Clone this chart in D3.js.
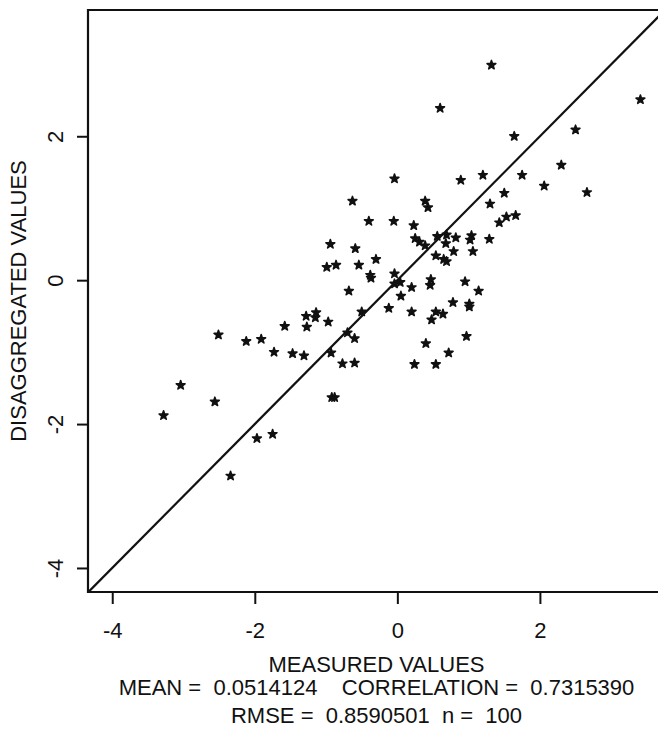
<!DOCTYPE html>
<html lang="en">
  <head>
    <meta charset="UTF-8" />
    <title>Measured vs disaggregated values</title>
    <script src="https://d3js.org/d3.v7.min.js"></script>
    <style>
      body {
        margin: 0;
        background: #fff;
      }
      svg text {
        font-family: "Liberation Sans", Arial, sans-serif;
        fill: #111;
      }
    </style>
  </head>
  <body>
    <svg width="658" height="731"></svg>

    <script>
      // measured (x) and disaggregated (y) values
      const measured = [
        1.32, 0.6, 3.41, 1.64, 2.5, 2.3, 0.89, 1.2, 1.75, 2.06, 2.66, 1.5,
        1.3, 1.43, 1.53, 1.66, 1.29, 0.69, 0.68, 0.82, 1.04, 1.02, 0.79, 1.06,
        -0.04, -0.63, 0.39, 0.43, -0.4, -0.05, 0.23, -0.94, -0.59, -0.3, -0.99,
        -0.86, -0.54, 0.25, 0.31, 0.39, 0.56, 0.54, 0.65, 0.69, -0.38, -0.37,
        -0.04, -0.68, -0.04, 0.04, 0.2, 0.47, 0.46, 0.95, 1.14, 0.05, -0.12,
        0.2, 0.78, 1.01, 1.01, 0.54, 0.64, -0.5, -1.28, -1.14, -1.15, -0.97,
        -1.27, 0.48, -0.7, -0.6, -0.93, -1.31, 0.4, 0.97, 0.72, -0.77, -0.6,
        0.24, 0.54, -0.92, -0.88, -2.51, -2.12, -1.91, -1.73, -1.58, -1.47,
        -3.04, -2.56, -3.28, -1.97, -1.75, -2.34,
      ];
      const disaggregated = [
        2.99, 2.39, 2.51, 2.0, 2.09, 1.6, 1.39, 1.46, 1.46, 1.31, 1.22, 1.21,
        1.06, 0.8, 0.88, 0.9, 0.57, 0.63, 0.51, 0.59, 0.62, 0.56, 0.4, 0.4,
        1.41, 1.1, 1.1, 1.01, 0.82, 0.82, 0.76, 0.5, 0.44, 0.29, 0.18, 0.21,
        0.21, 0.58, 0.53, 0.48, 0.61, 0.34, 0.29, 0.26, 0.07, 0.03, 0.09,
        -0.15, -0.05, -0.03, -0.1, 0.01, -0.07, -0.02, -0.15, -0.22, -0.39,
        -0.44, -0.31, -0.33, -0.37, -0.44, -0.47, -0.44, -0.5, -0.45, -0.52,
        -0.58, -0.65, -0.55, -0.73, -0.81, -1.01, -1.05, -0.88, -0.78, -1.01,
        -1.16, -1.15, -1.17, -1.17, -1.63, -1.63, -0.76, -0.85, -0.82, -1.0,
        -0.64, -1.02, -1.46, -1.69, -1.88, -2.2, -2.14, -2.72,
      ];
      const xTicks = [-4, -2, 0, 2];
      const yTicks = [-4, -2, 0, 2];
      const xDomain = [-4.34, 3.755];
      const yDomain = [-4.334, 3.755];
      const xTitle = "MEASURED VALUES";
      const yTitle = "DISAGGREGATED VALUES";
      const statLines = [
        "MEAN =  0.0514124    CORRELATION =  0.7315390",
        "RMSE =  0.8590501  n =  100",
      ];

      const svg = d3.select("svg");
      const plotLeft = 88,
        plotRight = 665,
        plotTop = 10,
        plotBottom = 592;
      const midX = (plotLeft + plotRight) / 2;
      const fontSize = 22;

      const x = d3.scaleLinear().domain(xDomain).range([plotLeft, plotRight]);
      const y = d3.scaleLinear().domain(yDomain).range([plotBottom, plotTop]);

      svg
        .append("clipPath")
        .attr("id", "plot")
        .append("rect")
        .attr("x", plotLeft)
        .attr("y", plotTop)
        .attr("width", plotRight - plotLeft)
        .attr("height", plotBottom - plotTop);

      // y = x reference line
      const diag = d3.line()
        .x((d) => x(d))
        .y((d) => y(d));
      svg
        .append("path")
        .attr("clip-path", "url(#plot)")
        .attr("d", diag([xDomain[0], xDomain[1]]))
        .attr("fill", "none")
        .attr("stroke", "#111")
        .attr("stroke-width", 2.2);

      // points
      const star = d3.symbol().type(d3.symbolStar).size(24);
      svg
        .append("g")
        .selectAll("path")
        .data(d3.range(measured.length))
        .join("path")
        .attr("transform", (i) => `translate(${x(measured[i])},${y(disaggregated[i])})`)
        .attr("d", star)
        .attr("fill", "#111")
        .attr("stroke", "#111")
        .attr("stroke-width", 1.6)
        .attr("stroke-linejoin", "round");

      // axes
      const xAxis = svg
        .append("g")
        .attr("transform", `translate(0,${plotBottom})`)
        .call(
          d3.axisBottom(x).tickValues(xTicks).tickSize(12).tickFormat((d) => String(d))
        );
      const yAxis = svg
        .append("g")
        .attr("transform", `translate(${plotLeft},0)`)
        .call(
          d3.axisLeft(y).tickValues(yTicks).tickSize(11).tickFormat((d) => String(d))
        );
      [xAxis, yAxis].forEach((g) => {
        g.select(".domain").remove();
        g.selectAll(".tick line").attr("stroke", "#111").attr("stroke-width", 2);
        g.selectAll(".tick text")
          .attr("font-size", fontSize)
          .attr("fill", "#111")
          .attr("font-family", "Liberation Sans, Arial, sans-serif");
      });
      xAxis.selectAll(".tick text").attr("y", 0).attr("dy", 0).attr("transform", "translate(0,46)");
      yAxis
        .selectAll(".tick text")
        .attr("x", 0)
        .attr("dy", 0)
        .attr("text-anchor", "middle")
        .attr("transform", "translate(-25,0) rotate(-90)");

      // frame
      svg
        .append("path")
        .attr("d", `M${plotRight},${plotTop}H${plotLeft}V${plotBottom}H${plotRight}`)
        .attr("fill", "none")
        .attr("stroke", "#111")
        .attr("stroke-width", 2.2);

      // titles
      svg
        .append("text")
        .attr("x", midX)
        .attr("y", 672)
        .attr("text-anchor", "middle")
        .attr("font-size", fontSize)
        .text(xTitle);
      svg
        .append("text")
        .attr("transform", "translate(26,301) rotate(-90)")
        .attr("text-anchor", "middle")
        .attr("font-size", fontSize)
        .text(yTitle);
      svg
        .selectAll(".stat")
        .data(statLines)
        .join("text")
        .attr("class", "stat")
        .attr("x", midX)
        .attr("y", (d, i) => 695 + i * 28)
        .attr("text-anchor", "middle")
        .attr("font-size", fontSize)
        .attr("xml:space", "preserve")
        .style("white-space", "pre")
        .text((d) => d);
    </script>
  </body>
</html>
